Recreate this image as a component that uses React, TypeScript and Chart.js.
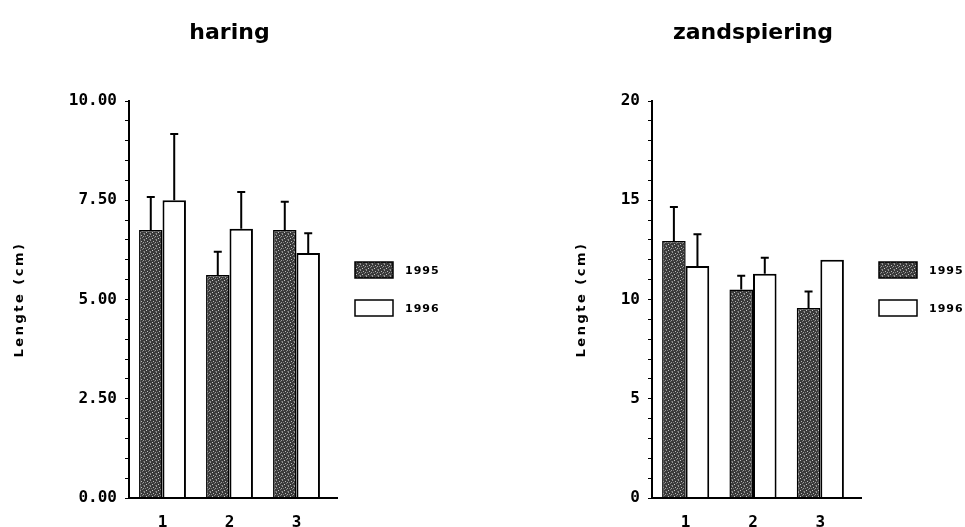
import React, { useEffect, useRef } from 'react';
import { Chart, registerables } from 'chart.js';

Chart.register(...registerables);

// ---------- data ----------
const categories = ['1', '2', '3'];
const seriesLabels = ['1995', '1996'];

const haringTitle = 'haring';
const haring1995 = [6.75, 5.62, 6.75];
const haring1995Sd = [0.83, 0.58, 0.71];
const haring1996 = [7.5, 6.78, 6.17];
const haring1996Sd = [1.67, 0.93, 0.5];
const haringMajorTicks = [0, 2.5, 5, 7.5, 10];
const haringTickLabels = ['0.00', '2.50', '5.00', '7.50', '10.00'];

const zandTitle = 'zandspiering';
const zand1995 = [12.95, 10.5, 9.57];
const zand1995Sd = [1.71, 0.7, 0.83];
const zand1996 = [11.69, 11.3, 12.0];
const zand1996Sd = [1.6, 0.8, 0.0];
const zandMajorTicks = [0, 5, 10, 15, 20];
const zandTickLabels = ['0', '5', '10', '15', '20'];

const yAxisTitle = 'Lengte (cm)';

// ---------- helpers ----------
function makePattern(): CanvasPattern | string {
  const c = document.createElement('canvas');
  c.width = 6;
  c.height = 6;
  const g = c.getContext('2d');
  if (!g) return '#505050';
  g.fillStyle = '#3a3a3a';
  g.fillRect(0, 0, 6, 6);
  const light: [number, number, string][] = [
    [0, 0, '#9a9a9a'], [3, 1, '#b8b8b8'], [1, 2, '#7a7a7a'], [5, 2, '#a0a0a0'],
    [2, 4, '#c8c8c8'], [4, 3, '#808080'], [0, 5, '#8c8c8c'], [5, 5, '#6a6a6a'],
  ];
  for (const [x, y, col] of light) {
    g.fillStyle = col;
    g.fillRect(x, y, 1, 1);
  }
  const p = g.createPattern(c, 'repeat');
  return p || '#505050';
}

type PanelProps = {
  left: number;
  width: number;
  title: string;
  v1: number[];
  sd1: number[];
  v2: number[];
  sd2: number[];
  yMax: number;
  minorStep: number;
  majorTicks: number[];
  tickLabels: string[];
  axisWidth: number;
  padRight: number;
  yTitleX: number;
};

const CANVAS_H = 545;

function Panel(props: PanelProps) {
  const ref = useRef<HTMLCanvasElement>(null);
  useEffect(() => {
    const canvas = ref.current;
    if (!canvas) return;
    const pat = makePattern();
    const sds = [props.sd1, props.sd2];

    const decor = {
      id: 'decor',
      afterDatasetsDraw(chart: any) {
        const ctx = chart.ctx as CanvasRenderingContext2D;
        const ys = chart.scales.y;
        ctx.save();
        ctx.strokeStyle = '#000';
        ctx.lineWidth = 2;
        chart.data.datasets.forEach((ds: any, i: number) => {
          const meta = chart.getDatasetMeta(i);
          meta.data.forEach((el: any, j: number) => {
            const sd = sds[i][j];
            if (!sd) return;
            const top = ys.getPixelForValue(ds.data[j] + sd);
            ctx.beginPath();
            ctx.moveTo(el.x, el.y);
            ctx.lineTo(el.x, top);
            ctx.moveTo(el.x - 4, top);
            ctx.lineTo(el.x + 4, top);
            ctx.stroke();
          });
        });
        ctx.restore();
      },
      afterDraw(chart: any) {
        const ctx = chart.ctx as CanvasRenderingContext2D;
        const a = chart.chartArea;
        ctx.save();
        // x axis line (extended a bit beyond the last category)
        ctx.strokeStyle = '#000';
        ctx.lineWidth = 2;
        ctx.beginPath();
        ctx.moveTo(a.left, a.bottom);
        ctx.lineTo(a.right + 8, a.bottom);
        ctx.stroke();

        // title
        ctx.fillStyle = '#000';
        ctx.font = 'bold 22px "DejaVu Sans"';
        ctx.textAlign = 'center';
        ctx.textBaseline = 'alphabetic';
        ctx.fillText(props.title, (a.left + a.right) / 2, 39);

        // y axis title
        ctx.save();
        ctx.translate(props.yTitleX, (a.top + a.bottom) / 2);
        ctx.rotate(-Math.PI / 2);
        ctx.font = 'bold 13px "DejaVu Sans"';
        (ctx as any).letterSpacing = '2.5px';
        ctx.textAlign = 'center';
        ctx.textBaseline = 'middle';
        ctx.fillText(yAxisTitle, 0, 0);
        ctx.restore();

        // legend
        const offsets = [161, 199];
        chart.data.datasets.forEach((ds: any, i: number) => {
          const x = a.right + 25;
          const y = a.top + offsets[i];
          ctx.fillStyle = ds.backgroundColor;
          ctx.fillRect(x, y, 38, 16);
          ctx.strokeStyle = '#000';
          ctx.lineWidth = 1.5;
          ctx.strokeRect(x, y, 38, 16);
          ctx.fillStyle = '#000';
          ctx.font = 'bold 11px "DejaVu Sans"';
          (ctx as any).letterSpacing = '1px';
          ctx.textAlign = 'left';
          ctx.textBaseline = 'middle';
          ctx.fillText(ds.label, x + 50, y + 9);
        });
        ctx.restore();
      },
    };

    const chart = new Chart(canvas, {
      type: 'bar',
      data: {
        labels: categories,
        datasets: [
          {
            label: seriesLabels[0],
            data: props.v1,
            backgroundColor: pat as any,
            borderColor: '#000',
            borderWidth: 1.5,
            categoryPercentage: 0.7,
            barPercentage: 1,
          },
          {
            label: seriesLabels[1],
            data: props.v2,
            backgroundColor: '#ffffff',
            borderColor: '#000',
            borderWidth: 2,
            categoryPercentage: 0.7,
            barPercentage: 1,
          },
        ],
      },
      options: {
        responsive: false,
        animation: false,
        layout: { padding: { top: 101, left: 0, right: props.padRight, bottom: 0 } },
        plugins: {
          legend: { display: false },
          title: { display: false },
          tooltip: { enabled: false },
        },
        scales: {
          x: {
            grid: { display: false, drawTicks: false },
            border: { display: false },
            ticks: {
              color: '#000',
              padding: 15,
              font: { family: '"DejaVu Sans Mono"', size: 16, weight: 'bold' },
            },
            afterFit(scale: any) {
              scale.height = 47;
            },
          },
          y: {
            min: 0,
            max: props.yMax,
            grid: {
              display: true,
              drawOnChartArea: false,
              drawTicks: true,
              tickLength: 4,
              color: '#000',
              lineWidth: 1,
            },
            border: { display: true, color: '#000', width: 2 },
            ticks: {
              stepSize: props.minorStep,
              autoSkip: false,
              color: '#000',
              padding: 8,
              font: { family: '"DejaVu Sans Mono"', size: 16, weight: 'bold' },
              callback(value: any) {
                const v = Number(value);
                const idx = props.majorTicks.findIndex((t) => Math.abs(t - v) < 1e-6);
                return idx >= 0 ? props.tickLabels[idx] : '';
              },
            },
            afterFit(scale: any) {
              scale.width = props.axisWidth;
            },
          },
        },
      } as any,
      plugins: [decor],
    });
    return () => chart.destroy();
  }, []);
  return (
    <canvas
      ref={ref}
      width={props.width}
      height={CANVAS_H}
      style={{ position: 'absolute', left: props.left, top: 0, width: props.width, height: CANVAS_H }}
    />
  );
}

export default function App() {
  return (
    <div
      style={{
        position: 'fixed',
        left: 0,
        top: 0,
        width: 965,
        height: 527,
        overflow: 'hidden',
        background: '#fff',
      }}
    >
      <Panel
        left={0}
        width={480}
        title={haringTitle}
        v1={haring1995}
        sd1={haring1995Sd}
        v2={haring1996}
        sd2={haring1996Sd}
        yMax={10}
        minorStep={0.5}
        majorTicks={haringMajorTicks}
        tickLabels={haringTickLabels}
        axisWidth={129}
        padRight={150}
        yTitleX={20}
      />
      <Panel
        left={480}
        width={485}
        title={zandTitle}
        v1={zand1995}
        sd1={zand1995Sd}
        v2={zand1996}
        sd2={zand1996Sd}
        yMax={20}
        minorStep={1}
        majorTicks={zandMajorTicks}
        tickLabels={zandTickLabels}
        axisWidth={172}
        padRight={111}
        yTitleX={102}
      />
    </div>
  );
}
